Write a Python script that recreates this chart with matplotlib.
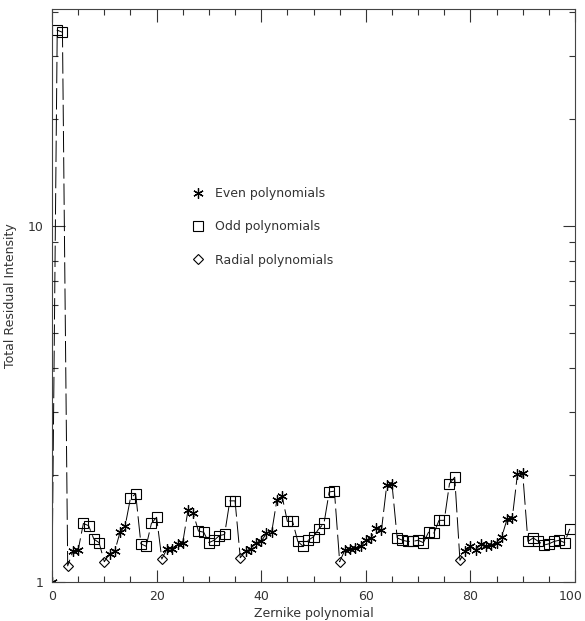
#coding:utf-8
# Zernike residual intensity plot (log y axis)
import matplotlib
matplotlib.use('Agg')
import matplotlib.pyplot as plt
from matplotlib.ticker import LogLocator, MultipleLocator, FixedFormatter, FixedLocator, NullFormatter

plt.rcParams['font.family'] = ['DejaVu Sans']

# residual intensity for each Zernike polynomial (index 0..99)
residual = [1.00, 35.5, 35.0, 1.11, 1.22, 1.23, 1.46, 1.44, 1.32, 1.29,
            1.14, 1.20, 1.22, 1.38, 1.44, 1.72, 1.77, 1.28, 1.26, 1.46,
            1.52, 1.16, 1.24, 1.24, 1.28, 1.29, 1.59, 1.56, 1.39, 1.38,
            1.29, 1.31, 1.35, 1.36, 1.69, 1.69, 1.17, 1.22, 1.24, 1.29,
            1.30, 1.37, 1.38, 1.70, 1.74, 1.48, 1.48, 1.30, 1.26, 1.31,
            1.34, 1.41, 1.46, 1.79, 1.80, 1.14, 1.23, 1.24, 1.25, 1.26,
            1.31, 1.33, 1.42, 1.40, 1.87, 1.89, 1.33, 1.31, 1.30, 1.30,
            1.31, 1.29, 1.38, 1.37, 1.49, 1.49, 1.89, 1.97, 1.15, 1.22,
            1.26, 1.23, 1.28, 1.26, 1.27, 1.29, 1.34, 1.50, 1.51, 2.01,
            2.02, 1.30, 1.33, 1.30, 1.27, 1.28, 1.30, 1.31, 1.29, 1.41]
# kind of every polynomial: E = even, O = odd, R = radial
kinds = ("E" + "OO" + "R" + "EE" + "OOOO" + "R" + "EEEE" + "OOOOOO" + "R"
         + "EEEEEE" + "OOOOOOOO" + "R" + "EEEEEEEE" + "OOOOOOOOOO" + "R"
         + "EEEEEEEEEE" + "OOOOOOOOOOOO" + "R" + "EEEEEEEEEEEE" + "OOOOOOOOO")
index = list(range(len(residual)))
xticks = [0, 20, 40, 60, 80, 100]
xtick_labels = ['0', '20', '40', '60', '80', '100']

fig = plt.figure(figsize=(5.85, 6.21), dpi=100)
ax = fig.add_axes([52/585, 1-582/621, (575-52)/585, (582-9)/621])

ax.plot(index, residual, color='black', lw=0.7, dashes=(22, 5))

def pick(k):
    return [i for i in index if kinds[i] == k], [residual[i] for i in index if kinds[i] == k]

xe, ye = pick('E')
xo, yo = pick('O')
xr, yr = pick('R')
h1, = ax.plot(xe, ye, ls='none', marker=(6, 2, 0), ms=7.5, mew=0.9, color='black', label='Even polynomials')
h2, = ax.plot(xo, yo, ls='none', marker='s', ms=7.5, mew=0.8, mfc='none', mec='black', label='Odd polynomials')
h3, = ax.plot(xr, yr, ls='none', marker='D', ms=5, mew=0.8, mfc='none', mec='black', label='Radial polynomials')

ax.set_yscale('log')
ax.set_xlim(0, 100)
ax.set_ylim(1, 40.7)
ax.xaxis.set_major_locator(FixedLocator(xticks))
# last label is drawn by hand a bit to the left so it stays in the picture
ax.xaxis.set_major_formatter(FixedFormatter(xtick_labels[:-1] + ['']))
ax.xaxis.set_minor_locator(MultipleLocator(5))
ax.yaxis.set_major_locator(FixedLocator([1, 10]))
ax.yaxis.set_major_formatter(FixedFormatter(['1', '10']))
ax.yaxis.set_minor_locator(LogLocator(base=10, subs=range(2, 10)))
ax.yaxis.set_minor_formatter(NullFormatter())

ax.tick_params(which='both', direction='in', top=True, right=True, colors='#333333',
               labelsize=9, width=0.8)
ax.tick_params(which='major', length=9, pad=6)
ax.tick_params(which='minor', length=4.5)
for s in ax.spines.values():
    s.set_color('#444444')
    s.set_linewidth(0.8)

ax.annotate(xtick_labels[-1], xy=(1, 0), xycoords='axes fraction', xytext=(-3, -6),
            textcoords='offset points', ha='center', va='top', fontsize=9, color='#333333')

ax.set_xlabel('Zernike polynomial', fontsize=9, color='#333333', labelpad=3)
ax.set_ylabel('Total Residual Intensity', fontsize=9, color='#333333')
ax.yaxis.set_label_coords(-0.066, 0.5)

ax.legend(handles=[h1, h2, h3], loc='upper left', bbox_to_anchor=(190/585, 1-187/621),
          bbox_transform=fig.transFigure, frameon=False, fontsize=9, handlelength=1.2,
          handletextpad=0.8, labelspacing=1.63, borderpad=0, borderaxespad=0,
          labelcolor='#333333')

fig.savefig('out.png', dpi=100)
